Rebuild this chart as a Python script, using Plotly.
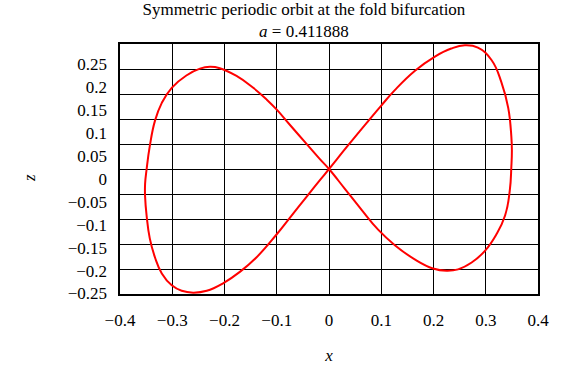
import plotly.graph_objects as go

# Orbit points (x, z), traced along the curve starting at the origin
x_vals = [0.0, 0.036, 0.075, 0.100, 0.126, 0.164, 0.202, 0.234, 0.260, 0.285, 0.311, 0.330, 0.343, 0.349, 0.350, 0.349,
          0.346, 0.337, 0.320, 0.298, 0.273, 0.247, 0.225, 0.199, 0.164, 0.126, 0.094, 0.062, 0.030, 0.0,
          -0.017, -0.043, -0.075, -0.100, -0.119, -0.145, -0.177, -0.209, -0.228, -0.247, -0.273, -0.301, -0.320,
          -0.333, -0.343, -0.349, -0.352, -0.352, -0.349, -0.343, -0.333, -0.320, -0.301, -0.282, -0.260, -0.234,
          -0.202, -0.170, -0.139, -0.100, -0.075, -0.043, -0.017, 0.0]
z_vals = [0.0, 0.051, 0.105, 0.139, 0.173, 0.215, 0.246, 0.264, 0.271, 0.266, 0.239, 0.190, 0.134, 0.071, 0.040, 0.005,
          -0.047, -0.102, -0.144, -0.180, -0.205, -0.220, -0.223, -0.218, -0.198, -0.167, -0.133, -0.089, -0.043, 0.0,
          0.021, 0.055, 0.097, 0.130, 0.152, 0.178, 0.204, 0.221, 0.224, 0.220, 0.205, 0.178, 0.145,
          0.106, 0.050, 0.000, -0.033, -0.060, -0.103, -0.152, -0.194, -0.229, -0.255, -0.267, -0.271, -0.267,
          -0.250, -0.225, -0.194, -0.143, -0.107, -0.061, -0.024, 0.0]

x_tick_vals = [-0.4, -0.3, -0.2, -0.1, 0.0, 0.1, 0.2, 0.3, 0.4]
x_tick_text = ["\u22120.4", "\u22120.3", "\u22120.2", "\u22120.1", "0", "0.1", "0.2", "0.3", "0.4"]
z_tick_vals = [-0.25, -0.2, -0.15, -0.1, -0.05, 0.0, 0.05, 0.1, 0.15, 0.2, 0.25]
z_tick_text = ["\u22120.25", "\u22120.2", "\u22120.15", "\u22120.1", "\u22120.05", "0",
               "0.05", "0.1", "0.15", "0.2", "0.25"]

FONT = "Liberation Serif, DejaVu Serif, serif"
TXT = dict(family=FONT, size=17, color="black")

fig = go.Figure()
fig.add_trace(go.Scatter(x=x_vals, y=z_vals, mode="lines",
                         line=dict(color="#ff0000", width=2, shape="spline", smoothing=1.3),
                         showlegend=False, hoverinfo="skip"))
# invisible trace to activate the label axis
fig.add_trace(go.Scatter(x=[None], y=[None], yaxis="y2", showlegend=False, hoverinfo="skip"))

fig.update_layout(
    width=564, height=374,
    margin=dict(l=120, r=26, t=44, b=69),
    paper_bgcolor="white", plot_bgcolor="white",
    font=TXT,
    title=dict(text="Symmetric periodic orbit at the fold bifurcation<br><i>a</i> = 0.411888",
               x=0.44, xref="paper", xanchor="center",
               y=1 - 15 / 374, yref="container", yanchor="middle",
               font=TXT),
    xaxis=dict(range=[-0.4, 0.4], tickmode="array", tickvals=x_tick_vals, ticktext=x_tick_text,
               tickfont=TXT,
               showgrid=True, gridcolor="black", gridwidth=1, zeroline=False,
               showline=True, mirror=True, linecolor="black", linewidth=1.5,
               ticks="", ticklabelstandoff=10,
               title=dict(text="<i>x</i>", standoff=20, font=TXT)),
    yaxis=dict(range=[-0.274, 0.274], tick0=0, dtick=0.0548, showticklabels=False,
               showgrid=True, gridcolor="black", gridwidth=1, zeroline=False,
               showline=True, mirror=True, linecolor="black", linewidth=1.5, ticks=""),
    yaxis2=dict(range=[-0.251, 0.2927], overlaying="y", side="left",
                tickmode="array", tickvals=z_tick_vals, ticktext=z_tick_text,
                tickfont=TXT,
                showgrid=False, zeroline=False, showline=False, ticks="",
                ticklabelstandoff=12),
    annotations=[dict(text="<i>z</i>", xref="paper", yref="y2", x=-0.244, y=0.0,
                      showarrow=False, textangle=-90, font=TXT)],
)

fig.write_html("out.html")
